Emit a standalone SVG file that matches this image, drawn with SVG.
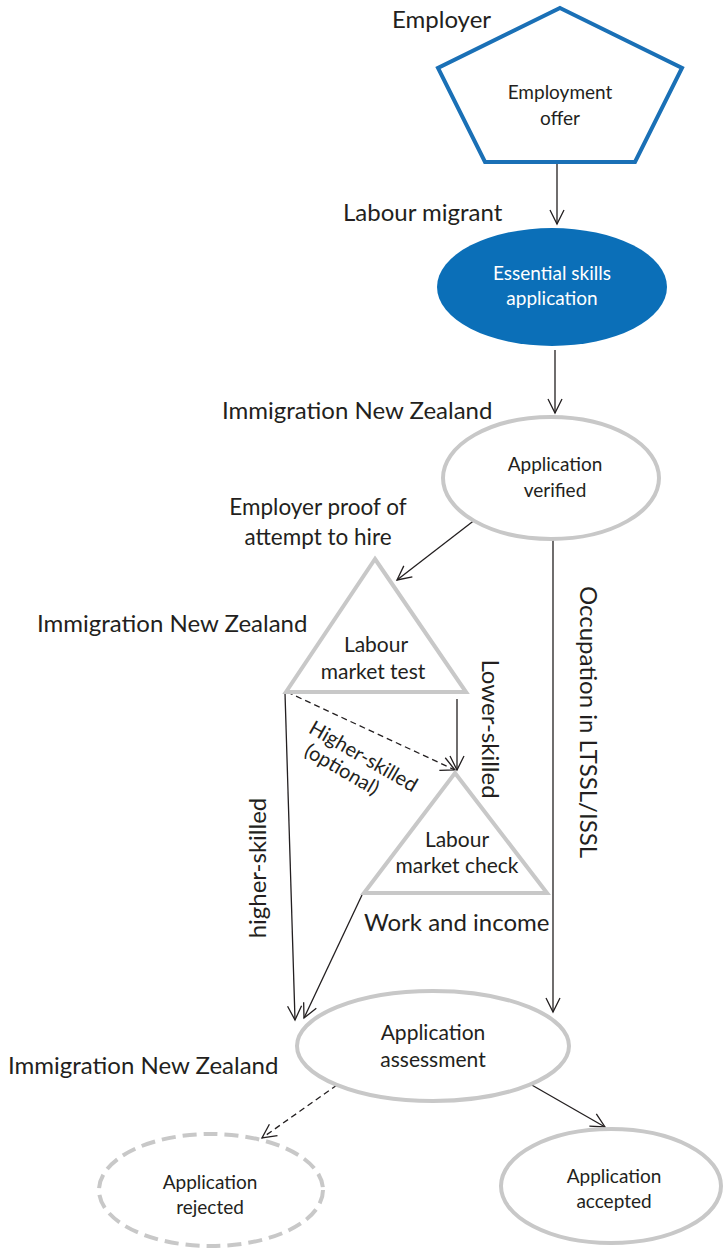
<svg xmlns="http://www.w3.org/2000/svg" width="724" height="1251" viewBox="0 0 724 1251">
  <style>
    .lbl { font-family: Lato, "Liberation Sans", sans-serif; font-size: 24px; fill: #231f20; }
    .nt { font-family: Lato, "Liberation Sans", sans-serif; font-size: 19px; fill: #231f20; text-anchor: middle; }
    .big { font-size: 21px; }
    .edge { stroke: #231f20; stroke-width: 1.3; fill: none; marker-end: url(#arr); }
    .dash { stroke-dasharray: 6 4; }
    .gray { fill: #fff; stroke: #c8c8c8; stroke-width: 4; }
  </style>
  <defs>
    <marker id="arr" viewBox="0 0 20 20" refX="18" refY="10" markerWidth="20" markerHeight="20" markerUnits="userSpaceOnUse" orient="auto">
      <polyline points="4,3 18,10 4,17" fill="none" stroke="#231f20" stroke-width="1.3"/>
    </marker>
  </defs>
  <rect width="724" height="1251" fill="#fff"/>

  <g id="edges">
    <line class="edge" x1="557" y1="164" x2="557" y2="224"/>
    <line class="edge" x1="555" y1="350" x2="555" y2="413"/>
    <line class="edge" x1="476" y1="519" x2="397" y2="580"/>
    <line class="edge" x1="553" y1="537" x2="553" y2="1012"/>
    <line class="edge" x1="457" y1="699" x2="457" y2="770"/>
    <line class="edge dash" x1="287" y1="692" x2="455" y2="770"/>
    <line class="edge" x1="285" y1="693" x2="295" y2="1020"/>
    <line class="edge" x1="362" y1="895" x2="304" y2="1018"/>
    <line class="edge dash" x1="337" y1="1085" x2="262" y2="1138"/>
    <line class="edge" x1="530" y1="1084" x2="605" y2="1127"/>
  </g>

  <g id="employment-offer">
    <polygon points="560,8 682,68 635,162 485,162 438,68" fill="#fff" stroke="#1a70b6" stroke-width="4" stroke-linejoin="miter"/>
    <text class="nt" x="560" y="99">Employment</text>
    <text class="nt" x="560" y="125">offer</text>
  </g>

  <g id="essential-skills">
    <ellipse cx="552" cy="287" rx="115" ry="59" fill="#0b6fb8"/>
    <text class="nt" x="552" y="280" style="fill:#fff">Essential skills</text>
    <text class="nt" x="552" y="305" style="fill:#fff">application</text>
  </g>

  <g id="application-verified">
    <ellipse class="gray" cx="551" cy="478" rx="108" ry="61"/>
    <text class="nt" x="555" y="471">Application</text>
    <text class="nt" x="555" y="497">verified</text>
  </g>

  <g id="labour-market-test">
    <polygon class="gray" points="375,559 466,692 286,692"/>
    <text class="nt big" x="376" y="652">Labour</text>
    <text class="nt big" x="373" y="679">market test</text>
  </g>

  <g id="labour-market-check">
    <polygon class="gray" points="455,773 547,893 364,893"/>
    <text class="nt big" x="457" y="847">Labour</text>
    <text class="nt big" x="457" y="873">market check</text>
  </g>

  <g id="application-assessment">
    <ellipse class="gray" cx="433" cy="1046" rx="136" ry="55"/>
    <text class="nt big" x="433" y="1040">Application</text>
    <text class="nt big" x="433" y="1067">assessment</text>
  </g>

  <g id="application-rejected">
    <ellipse class="gray" cx="211" cy="1190" rx="112" ry="56" stroke-dasharray="14 7"/>
    <text class="nt" x="210" y="1189">Application</text>
    <text class="nt" x="210" y="1214">rejected</text>
  </g>

  <g id="application-accepted">
    <ellipse class="gray" cx="611" cy="1186" rx="110" ry="57"/>
    <text class="nt" x="614" y="1183">Application</text>
    <text class="nt" x="614" y="1208">accepted</text>
  </g>

  <g id="labels">
    <text class="lbl" x="392" y="28">Employer</text>
    <text class="lbl" x="343" y="221">Labour migrant</text>
    <text class="lbl" x="222" y="419">Immigration New Zealand</text>
    <text class="lbl" x="318" y="515" text-anchor="middle" style="font-size:22.5px">Employer proof of</text>
    <text class="lbl" x="318" y="545" text-anchor="middle" style="font-size:22.5px">attempt to hire</text>
    <text class="lbl" x="37" y="632">Immigration New Zealand</text>
    <text class="lbl" x="364" y="931">Work and income</text>
    <text class="lbl" x="8" y="1074">Immigration New Zealand</text>
    <text class="lbl" transform="translate(580,722) rotate(90)" text-anchor="middle">Occupation in LTSSL/ISSL</text>
    <text class="lbl" transform="translate(482,729) rotate(90)" text-anchor="middle">Lower-skilled</text>
    <text class="lbl" transform="translate(266,868) rotate(-90)" text-anchor="middle">higher-skilled</text>
    <g transform="translate(363,757) rotate(30)">
      <text class="nt" x="0" y="6" style="font-size:20px">Higher-skilled</text>
      <text class="nt" x="-12" y="28" style="font-size:20px">(optional)</text>
    </g>
  </g>
</svg>
